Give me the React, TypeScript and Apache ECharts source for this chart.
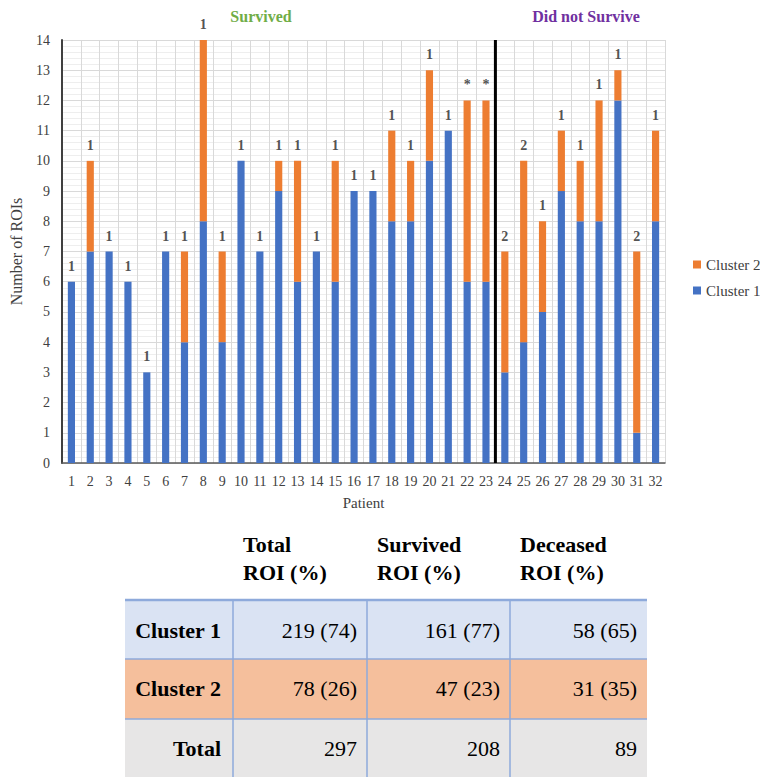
import React, { useEffect, useRef } from "react";
import * as echarts from "echarts";

const patients = Array.from({ length: 32 }, (_, i) => String(i + 1));
const cluster1 = [6, 7, 7, 6, 3, 7, 4, 8, 4, 10, 7, 9, 6, 7, 6, 9, 9, 8, 8, 10, 11, 6, 6, 3, 4, 5, 9, 8, 8, 12, 1, 8];
const cluster2 = [0, 3, 0, 0, 0, 0, 3, 6, 3, 0, 0, 1, 4, 0, 4, 0, 0, 3, 2, 3, 0, 6, 6, 4, 6, 3, 2, 2, 4, 1, 6, 3];
const topLabels = ["1", "1", "1", "1", "1", "1", "1", "1", "1", "1", "1", "1", "1", "1", "1", "1", "1", "1", "1", "1", "1", "*", "*", "2", "2", "1", "1", "1", "1", "1", "2", "1"];
const dividerAt = 23;

const headerLines = [["Total", "ROI (%)"], ["Survived", "ROI (%)"], ["Deceased", "ROI (%)"]];
const rowLabels = ["Cluster 1", "Cluster 2", "Total"];
const totalROI = ["219 (74)", "78 (26)", "297"];
const survivedROI = ["161 (77)", "47 (23)", "208"];
const deceasedROI = ["58 (65)", "31 (35)", "89"];

const SERIF = "Liberation Serif";
const BLUE = "#4472c4";
const ORANGE = "#ed7d31";

export default function App() {
  const ref = useRef<HTMLDivElement>(null);
  useEffect(() => {
    document.body.style.margin = "0";
    const chart = echarts.init(ref.current!, null, { renderer: "svg" });
    const totals = cluster1.map((v, i) => v + cluster2[i]);

    const colX = [125, 233, 367, 510, 647];
    const rowY = [600, 659, 719, 777];
    const textY = [630, 688, 748];
    const headX = [243, 377, 520];
    const rowFill = ["#dae3f3", "#f5bf9c", "#e7e6e6"];
    const border = "#8eaadb";
    const cols = [totalROI, survivedROI, deceasedROI];
    const g: any[] = [];
    headerLines.forEach((lines, c) => {
      lines.forEach((t, k) => {
        g.push({
          type: "text",
          x: headX[c],
          y: 544 + k * 28,
          style: { text: t, fontFamily: SERIF, fontWeight: "bold", fontSize: 22, fill: "#000", verticalAlign: "middle" },
        });
      });
    });
    for (let r = 0; r < 3; r++) {
      g.push({
        type: "rect",
        shape: { x: colX[0], y: rowY[r], width: colX[4] - colX[0], height: rowY[r + 1] - rowY[r] },
        style: { fill: rowFill[r] },
        silent: true,
      });
    }
    for (let r = 0; r < 3; r++) {
      g.push({
        type: "line",
        shape: { x1: colX[0], y1: rowY[r], x2: colX[4], y2: rowY[r] },
        style: { stroke: border, lineWidth: r === 0 ? 2.5 : 1.5 },
      });
    }
    for (let c = 1; c < 4; c++) {
      g.push({
        type: "line",
        shape: { x1: colX[c], y1: rowY[0], x2: colX[c], y2: rowY[3] },
        style: { stroke: border, lineWidth: 1.5 },
      });
    }
    for (let r = 0; r < 3; r++) {
      const cy = textY[r];
      g.push({
        type: "text",
        x: colX[1] - 12,
        y: cy,
        style: { text: rowLabels[r], fontFamily: SERIF, fontWeight: "bold", fontSize: 22, fill: "#000", align: "right", verticalAlign: "middle" },
      });
      cols.forEach((col, c) => {
        g.push({
          type: "text",
          x: colX[c + 2] - 10,
          y: cy,
          style: { text: col[r], fontFamily: SERIF, fontWeight: "normal", fontSize: 22, fill: "#000", align: "right", verticalAlign: "middle" },
        });
      });
    }
    g.push({
      type: "text",
      x: 261,
      y: 16,
      style: { text: "Survived", fontFamily: SERIF, fontWeight: "bold", fontSize: 16, fill: "#70ad47", align: "center", verticalAlign: "middle" },
    });
    g.push({
      type: "text",
      x: 586,
      y: 16,
      style: { text: "Did not Survive", fontFamily: SERIF, fontWeight: "bold", fontSize: 16, fill: "#7030a0", align: "center", verticalAlign: "middle" },
    });

    chart.setOption({
      animation: false,
      textStyle: { fontFamily: SERIF },
      grid: { left: 61, right: 95, top: 40, height: 423 },
      legend: {
        data: ["Cluster 2", "Cluster 1"],
        orient: "vertical",
        left: 688,
        top: 252,
        itemWidth: 8,
        itemHeight: 8,
        itemGap: 11,
        icon: "rect",
        textStyle: { fontFamily: SERIF, fontSize: 15, color: "#404040" },
      },
      xAxis: [
        {
          type: "category",
          data: patients,
          name: "Patient",
          nameLocation: "middle",
          nameGap: 32,
          nameTextStyle: { fontFamily: SERIF, fontSize: 15, color: "#404040" },
          axisTick: { show: false },
          axisLine: { lineStyle: { color: "#595959", width: 1.5 } },
          axisLabel: { interval: 0, fontFamily: SERIF, fontSize: 14, color: "#404040", margin: 11 },
          splitLine: { show: true, interval: 0, lineStyle: { color: "#d9d9d9", width: 1 } },
        },
        { type: "value", min: 0, max: 32, show: false },
      ],
      yAxis: {
        type: "value",
        min: 0,
        max: 14,
        interval: 1,
        name: "Number of ROIs",
        nameLocation: "middle",
        nameGap: 38,
        nameTextStyle: { fontFamily: SERIF, fontSize: 16, color: "#404040" },
        axisLine: { show: true, lineStyle: { color: "#404040", width: 2 } },
        axisTick: { show: false },
        axisLabel: { fontFamily: SERIF, fontSize: 14, color: "#404040", margin: 12 },
        splitLine: { lineStyle: { color: "#d9d9d9", width: 1 } },
        minorTick: { show: false, splitNumber: 5 },
        minorSplitLine: { show: true, lineStyle: { color: "#eeeeee", width: 1 } },
      },
      series: [
        {
          name: "Cluster 1",
          type: "bar",
          stack: "roi",
          data: cluster1,
          barWidth: "38%",
          itemStyle: { color: BLUE },
        },
        {
          name: "Cluster 2",
          type: "bar",
          stack: "roi",
          data: cluster2,
          barWidth: "38%",
          itemStyle: { color: ORANGE },
        },
        {
          name: "labels",
          type: "scatter",
          data: totals,
          symbolSize: 1,
          itemStyle: { color: "transparent" },
          label: {
            show: true,
            position: "top",
            distance: 8,
            formatter: (p: any) => topLabels[p.dataIndex],
            fontFamily: SERIF,
            fontWeight: "bold",
            fontSize: 14,
            color: "#262626",
          },
          silent: true,
          z: 5,
        },
        {
          name: "divider",
          type: "line",
          xAxisIndex: 1,
          data: [[dividerAt, 0], [dividerAt, 14]],
          symbol: "none",
          lineStyle: { color: "#000", width: 3 },
          silent: true,
          z: 6,
        },
      ],
      graphic: g,
    });
    return () => chart.dispose();
  }, []);
  return <div ref={ref} style={{ width: 760, height: 777, position: "absolute", left: 0, top: 0 }} />;
}
